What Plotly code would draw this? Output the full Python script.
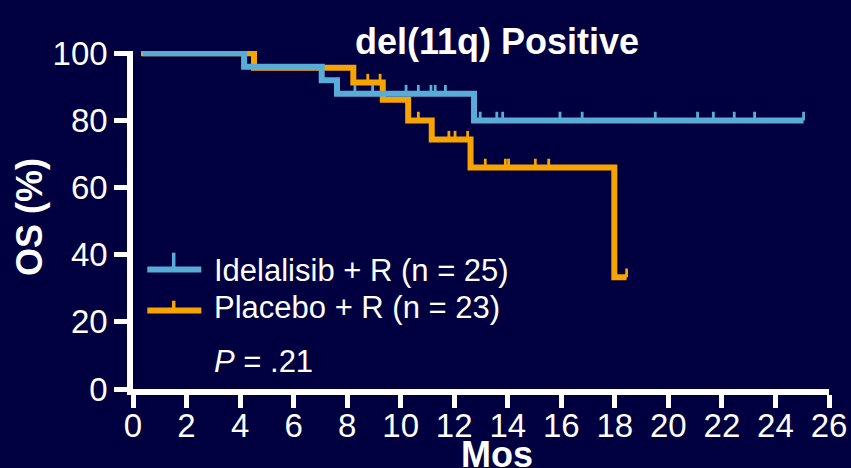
import plotly.graph_objects as go

# ---------------- data ----------------
x_tick_vals = list(range(0, 27, 2))
y_tick_vals = [0, 20, 40, 60, 80, 100]

ide_name = "Idelalisib + R (n = 25)"
ide_start = 0.37
ide_event_t = [4.15, 7.05, 7.62, 12.74]
ide_event_s = [96.0, 92.0, 88.0, 80.0]
ide_censor_t = [0.37, 8.29, 8.95, 10.20, 10.66, 11.13, 11.29, 11.67, 12.97, 13.59,
                13.81, 15.95, 16.78, 19.51, 21.09, 21.68, 22.46, 23.22, 25.05]
ide_end = 25.05

pla_name = "Placebo + R (n = 23)"
pla_start = 0.30
pla_event_t = [4.52, 8.23, 9.33, 10.28, 11.16, 12.61, 17.98]
pla_event_s = [95.7, 91.3, 86.2, 80.0, 74.3, 66.0, 33.3]
pla_censor_t = [2.47, 3.22, 3.59, 8.77, 9.23, 10.66, 11.80, 12.03, 12.50, 13.16,
                13.91, 14.03, 15.03, 15.53, 18.44]
pla_end = 18.44

p_text = "<i>P</i> = .21"
title_text = "<b>del(11q) Positive</b>"

# ---------------- styling ----------------
BG = "#000040"
BLUE = "#58ACD5"
ORANGE = "#F8A400"
WHITE = "#FFFFFF"
FONT = "Liberation Sans, Arial, sans-serif"

W, H = 851, 468
ML, MR, MT, MB = 133, 22, 51, 79
PW, PH = W - ML - MR, H - MT - MB


def px_x(px):
    return (px - ML) / PW


def px_y(py):
    return (H - MB - py) / PH


def level_at(t, ev_t, ev_s):
    s = 100.0
    for et, es in zip(ev_t, ev_s):
        if et <= t:
            s = es
    return s


def curve(start, ev_t, ev_s, end):
    xs = [start] + list(ev_t) + [end]
    ys = [100.0] + list(ev_s) + [ev_s[-1]]
    return xs, ys


def censor_marks(cens, ev_t, ev_s, h=2.6):
    xs, ys = [], []
    for t in cens:
        s = level_at(t, ev_t, ev_s)
        xs += [t, t, None]
        ys += [s, s + h, None]
    return xs, ys


fig = go.Figure()

for name, start, ev_t, ev_s, cens, end, col in [
    (pla_name, pla_start, pla_event_t, pla_event_s, pla_censor_t, pla_end, ORANGE),
    (ide_name, ide_start, ide_event_t, ide_event_s, ide_censor_t, ide_end, BLUE),
]:
    cx, cy = curve(start, ev_t, ev_s, end)
    fig.add_trace(go.Scatter(x=cx, y=cy, mode="lines", name=name,
                             line=dict(color=col, width=6, shape="hv"),
                             showlegend=False, hoverinfo="skip"))
    tx, ty = censor_marks(cens, ev_t, ev_s)
    fig.add_trace(go.Scatter(x=tx, y=ty, mode="lines", name=name + " censored",
                             line=dict(color=col, width=2.8),
                             showlegend=False, hoverinfo="skip"))

axis_common = dict(
    showline=True, linecolor=WHITE, linewidth=5.5,
    ticks="outside", ticklen=13, tickwidth=5, tickcolor=WHITE,
    tickfont=dict(family=FONT, size=33, color=WHITE),
    showgrid=False, zeroline=False, automargin=False,
)

fig.update_layout(
    template="none",
    width=W, height=H,
    margin=dict(l=ML, r=MR, t=MT, b=MB, pad=0),
    paper_bgcolor=BG, plot_bgcolor=BG,
    xaxis=dict(range=[0, 26], tickvals=x_tick_vals, ticklabelstandoff=-10, **axis_common),
    yaxis=dict(range=[0, 100.7], tickvals=y_tick_vals, **axis_common),
    showlegend=False,
)

annotations = [
    dict(text=title_text, x=px_x(497), y=px_y(41), xanchor="center", yanchor="middle",
         font=dict(family=FONT, size=36, color=WHITE)),
    dict(text="<b>Mos</b>", x=px_x(497), y=px_y(454), xanchor="center", yanchor="middle",
         font=dict(family=FONT, size=36, color=WHITE)),
    dict(text="<b>OS (%)</b>", x=px_x(30), y=px_y(217), xanchor="center", yanchor="middle",
         textangle=-90, font=dict(family=FONT, size=36, color=WHITE)),
    dict(text=ide_name, x=px_x(212), y=px_y(270), xanchor="left", yanchor="middle",
         font=dict(family=FONT, size=31, color=WHITE)),
    dict(text=pla_name, x=px_x(212), y=px_y(307), xanchor="left", yanchor="middle",
         font=dict(family=FONT, size=31, color=WHITE)),
    dict(text=p_text, x=px_x(212), y=px_y(361), xanchor="left", yanchor="middle",
         font=dict(family=FONT, size=31, color=WHITE)),
]
for a in annotations:
    a.update(xref="paper", yref="paper", showarrow=False)
fig.update_layout(annotations=annotations)

# legend glyphs (line with a censor tick)
shapes = []
for ly, ltop, col in [(269.5, 252.7, BLUE), (310.5, 300.7, ORANGE)]:
    shapes.append(dict(type="line", xref="paper", yref="paper",
                       x0=px_x(147.3), x1=px_x(201.3), y0=px_y(ly), y1=px_y(ly),
                       line=dict(color=col, width=6)))
    shapes.append(dict(type="line", xref="paper", yref="paper",
                       x0=px_x(173.7), x1=px_x(173.7), y0=px_y(ly), y1=px_y(ltop),
                       line=dict(color=col, width=3.5)))
fig.update_layout(shapes=shapes)

fig.write_html(
    "out.html",
    config={"displayModeBar": False},
    post_script="document.body.style.margin='0';document.body.style.background='" + BG + "';",
)
